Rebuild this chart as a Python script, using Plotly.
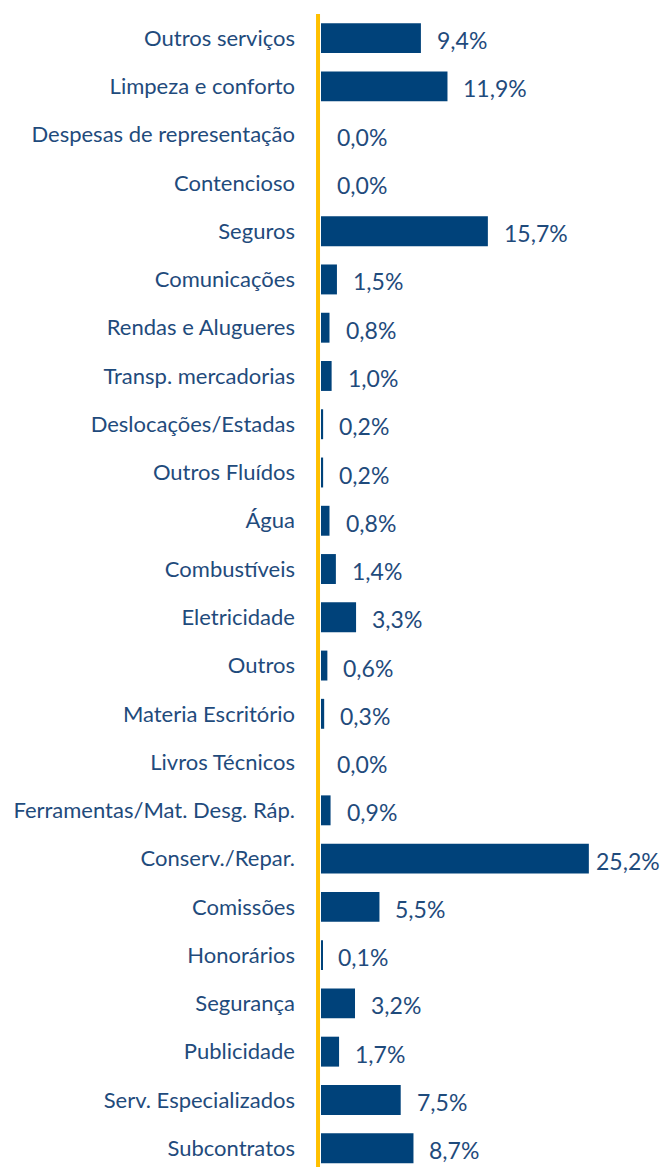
import plotly.graph_objects as go

categories = [
    "Outros serviços", "Limpeza e conforto", "Despesas de representação",
    "Contencioso", "Seguros", "Comunicações", "Rendas e Alugueres",
    "Transp. mercadorias", "Deslocações/Estadas", "Outros Fluídos", "Água",
    "Combustíveis", "Eletricidade", "Outros", "Materia Escritório",
    "Livros Técnicos", "Ferramentas/Mat. Desg. Ráp.", "Conserv./Repar.",
    "Comissões", "Honorários", "Segurança", "Publicidade",
    "Serv. Especializados", "Subcontratos",
]
shares = [
    9.4, 11.9, 0.0, 0.0, 15.7, 1.5, 0.8, 1.0, 0.2, 0.2, 0.8, 1.4, 3.3,
    0.6, 0.3, 0.0, 0.9, 25.2, 5.5, 0.1, 3.2, 1.7, 7.5, 8.7,
]

BAR = "#00427A"
TEXT = "#1F4B7C"
GOLD = "#FFC000"
FONT = "Lato"

labels = [f"{v:.1f}%".replace(".", ",") for v in shares]
vmax = max(shares)

fig = go.Figure(
    go.Bar(
        x=shares,
        y=categories,
        orientation="h",
        marker=dict(color=BAR, line=dict(width=0)),
        hoverinfo="skip",
    )
)

for cat, v, lab in zip(categories, shares, labels):
    # the longest bar's label sits closer so it stays inside the figure
    shift = 5 if v == vmax else 14
    fig.add_annotation(
        x=v, y=cat, text=lab, showarrow=False, xanchor="left",
        xshift=shift, yshift=-2, font=dict(family=FONT, size=23, color=TEXT),
    )

# vertical gold baseline
fig.add_shape(
    type="line", xref="x", yref="paper", x0=-0.28, x1=-0.28, y0=0, y1=1,
    line=dict(color=GOLD, width=4), layer="above",
)

fig.update_layout(
    width=664, height=1167,
    margin=dict(l=316, r=0, t=14, b=0),
    paper_bgcolor="white", plot_bgcolor="white",
    bargap=0.38, showlegend=False,
    font=dict(family=FONT, size=22, color=TEXT),
)
fig.update_xaxes(range=[-0.47, 32.27], visible=False)
fig.update_yaxes(
    categoryorder="array", categoryarray=categories,
    range=[23.39, -0.5], showgrid=False, showline=False, zeroline=False,
    ticks="", ticklabelstandoff=20,
    tickfont=dict(family=FONT, size=22, color=TEXT),
)

fig.write_html("out.html")
